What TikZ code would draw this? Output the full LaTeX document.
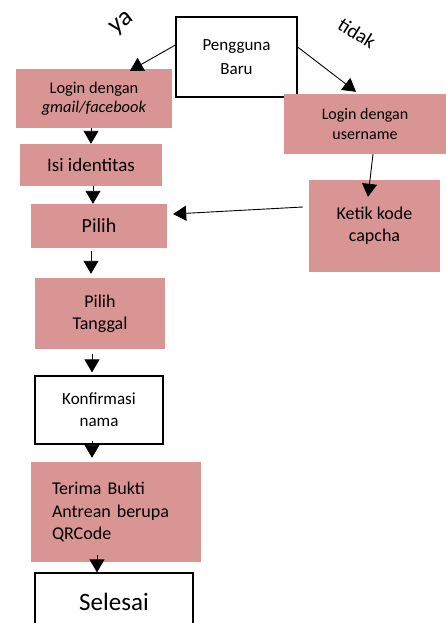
\documentclass[tikz,border=0pt]{standalone}
\usepackage{fontspec}
\setmainfont{Carlito}
\usetikzlibrary{arrows.meta,calc}
\definecolor{pinkbox}{RGB}{217,149,148}
\begin{document}
\begin{tikzpicture}[x=1pt,y=-1pt,
  pbox/.style={fill=pinkbox, draw=none, inner sep=0pt, align=center},
  wbox/.style={fill=white, draw=black, line width=1.2pt, inner sep=0pt, align=center},
  arr/.style={draw=black, line width=0.9pt, -{Triangle[length=13pt,width=15pt]}}]
\clip (0,0) rectangle (446,623);
\fill[white] (0,0) rectangle (446,623);
\node[wbox, minimum width=121pt, minimum height=80pt, font=\fontsize{17}{24}\selectfont] (peng) at (236.5,57) {Pengguna\\Baru};
\node[pbox, minimum width=156pt, minimum height=59pt, font=\fontsize{16.4}{19}\selectfont] (gmail) at (94,98.5) {Login dengan\\\textit{gmail/facebook}};
\node[pbox, minimum width=162pt, minimum height=60pt, font=\fontsize{16}{20}\selectfont] (user) at (365,124) {Login dengan\\username};
\node[pbox, minimum width=142pt, minimum height=42pt, font=\fontsize{19}{22}\selectfont] (isi) at (91,165) {Isi identitas};
\node[pbox, minimum width=136pt, minimum height=44pt, font=\fontsize{20}{22}\selectfont] (pilih) at (99,226) {Pilih};
\node[pbox, minimum width=131pt, minimum height=92pt, font=\fontsize{18}{22}\selectfont] (ketik) at (374.5,226) {Ketik kode\\capcha};
\node[pbox, minimum width=130pt, minimum height=71pt, font=\fontsize{18}{22}\selectfont] (tgl) at (100,313.5) {Pilih\\Tanggal};
\node[wbox, minimum width=128pt, minimum height=68pt, font=\fontsize{17}{22}\selectfont] (konf) at (99,410) {Konfirmasi\\nama};
\node[pbox, minimum width=170pt, minimum height=100pt, inner xsep=21pt, text width=128pt, align=left, font=\fontsize{18}{22.5}\selectfont] (terima) at (116,512) {Terima Bukti\\Antrean berupa\\QRCode};
\node[wbox, minimum width=158pt, minimum height=58pt, font=\fontsize{25}{25}\selectfont] (sel) at (114,602) {Selesai};
\node[rotate=37, font=\fontsize{26}{26}\selectfont] (ya) at (122,24) {ya};
\node[rotate=-32, font=\fontsize{20}{20}\selectfont] (tidak) at (357,33) {tidak};
\draw[arr] ([yshift=12pt]peng.west) -- ([xshift=36pt,yshift=-2pt]gmail.north);
\draw[arr] ([yshift=10pt]peng.east) -- ([xshift=-9pt,yshift=2pt]user.north);
\draw[arr] (gmail.south -| isi.north) -- (isi.north);
\draw[arr] ([xshift=2pt]isi.south) -- ([xshift=-6pt]pilih.north);
\draw[arr] ([xshift=8pt]user.south) -- ([xshift=-6.5pt,yshift=-17pt]ketik.north);
\draw[arr] ([xshift=-6pt,yshift=19pt]ketik.west) -- ([xshift=6pt,yshift=12pt]pilih.east);
\draw[arr] ([xshift=-8pt,yshift=-3pt]pilih.south) -- ([xshift=-9pt,yshift=4pt]tgl.north);
\draw[arr] ([xshift=-8pt,yshift=-5pt]tgl.south) -- ([xshift=-7pt,yshift=3pt]konf.north);
\draw[arr] ([xshift=-7pt,yshift=4pt]konf.south) -- ([xshift=-24pt,yshift=4pt]terima.north);
\draw[arr] ([xshift=-19pt,yshift=7pt]terima.south) -- ([xshift=-17pt]sel.north);
\end{tikzpicture}
\end{document}
